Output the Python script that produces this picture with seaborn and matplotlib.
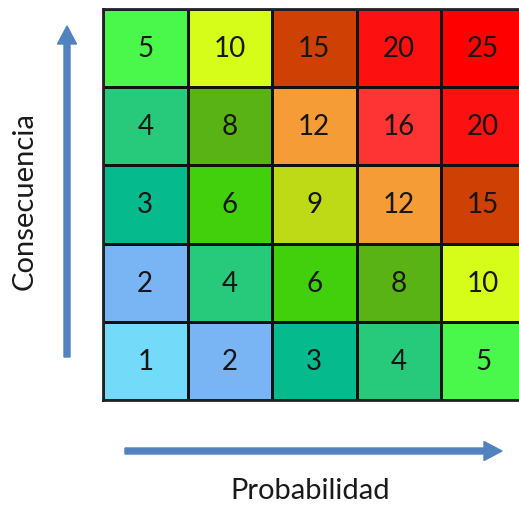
import numpy as np
import matplotlib
matplotlib.use("Agg")
import matplotlib.pyplot as plt
from matplotlib.colors import ListedColormap
from matplotlib.patches import FancyArrow
from matplotlib.transforms import IdentityTransform
import seaborn as sns

# Risk matrix: rows are consequence 5 (top) to 1 (bottom), columns probability 1..5
consecuencia = [5, 4, 3, 2, 1]
probabilidad = [1, 2, 3, 4, 5]
riesgo = [
    [5, 10, 15, 20, 25],
    [4, 8, 12, 16, 20],
    [3, 6, 9, 12, 15],
    [2, 4, 6, 8, 10],
    [1, 2, 3, 4, 5],
]

# Colour assigned to each risk level
niveles = [1, 2, 3, 4, 5, 6, 8, 9, 10, 12, 15, 16, 20, 25]
colores = ["#74DAFA", "#79B4F4", "#05BB8D", "#27C97A", "#4AF74B", "#41D00B",
           "#5AB315", "#BEDA17", "#D6FD19", "#F59C36", "#CF4004", "#FE3333",
           "#FC1010", "#FF0000"]

sns.set_theme(style="white")
plt.rcParams["font.family"] = ["Lato", "DejaVu Sans"]

W, H = 519, 506
fig = plt.figure(figsize=(W / 100, H / 100), dpi=100)

valores = np.array(riesgo)
indice = {v: i for i, v in enumerate(niveles)}
idx = np.vectorize(indice.get)(valores)

ax = fig.add_axes([103 / W, 1 - 401 / H, 422.5 / W, 391 / H])
sns.heatmap(idx, cmap=ListedColormap(colores), vmin=-0.5, vmax=len(niveles) - 0.5,
            annot=valores, fmt="d", cbar=False, linewidths=2, linecolor="#111111",
            annot_kws={"fontsize": 20, "color": "#161616"},
            xticklabels=False, yticklabels=False, ax=ax)
for side in ["left", "bottom", "top", "right"]:
    ax.spines[side].set_visible(True)
    ax.spines[side].set_color("#222222")
    ax.spines[side].set_linewidth(2)

azul = "#5282BF"
# Vertical axis arrow (pixel coordinates, origin bottom-left)
fig.add_artist(FancyArrow(67, H - 358, 0, 331, width=6, head_width=19, head_length=18,
                          length_includes_head=True, color=azul,
                          transform=IdentityTransform()))
# Horizontal axis arrow
fig.add_artist(FancyArrow(125, H - 452, 377, 0, width=6, head_width=19, head_length=18,
                          length_includes_head=True, color=azul,
                          transform=IdentityTransform()))

fig.text(25 / W, 1 - 201 / H, "Consecuencia", rotation=90, ha="center", va="center",
         fontsize=21, color="#1a1a1a")
fig.text(310 / W, 1 - 491 / H, "Probabilidad", ha="center", va="center",
         fontsize=21, color="#1a1a1a")

fig.savefig("out.png", dpi=100)
